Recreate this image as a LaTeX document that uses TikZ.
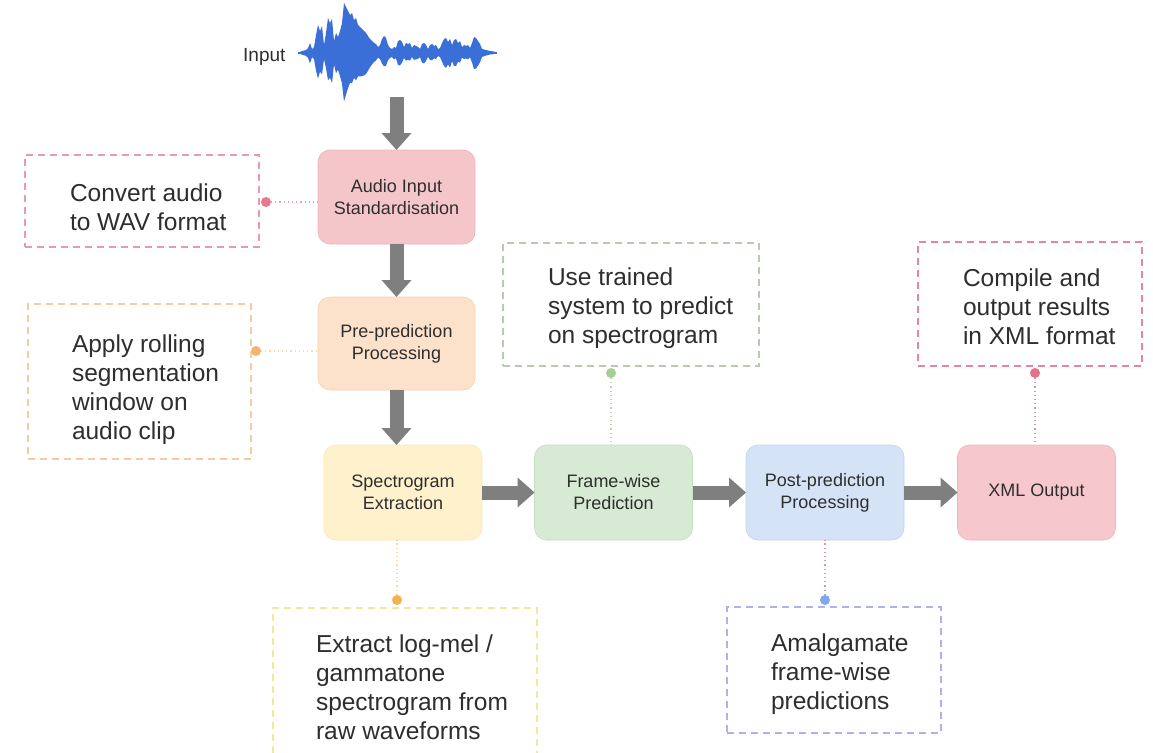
\documentclass[tikz,border=0pt]{standalone}
\usepackage{fontspec}
\setmainfont{Liberation Sans}
\usetikzlibrary{arrows.meta}
\definecolor{txt}{HTML}{2E2E2E}
\definecolor{wavec}{HTML}{3A6FD8}
\definecolor{arrowgrey}{HTML}{7F7F7F}
\definecolor{f1}{HTML}{F4C6CA}
\definecolor{f2}{HTML}{FCE2CB}
\definecolor{f3}{HTML}{FEF1CC}
\definecolor{f4}{HTML}{D7EAD3}
\definecolor{f5}{HTML}{D4E4F6}
\definecolor{f6}{HTML}{F6C8CE}
\definecolor{b1}{HTML}{EEB3BA}
\definecolor{b2}{HTML}{F6D2B2}
\definecolor{b3}{HTML}{FBE7B4}
\definecolor{b4}{HTML}{C5DFBF}
\definecolor{b5}{HTML}{BFD5EE}
\definecolor{b6}{HTML}{F0B3BD}
\definecolor{k1}{HTML}{E99AAD}
\definecolor{k2}{HTML}{F6CBA0}
\definecolor{k3}{HTML}{B9C9B5}
\definecolor{k4}{HTML}{E585A0}
\definecolor{k5}{HTML}{F0EA9A}
\definecolor{k6}{HTML}{AFB2EA}
\definecolor{d1c}{HTML}{E8798C}
\definecolor{d2c}{HTML}{F4B373}
\definecolor{d3c}{HTML}{A5CF94}
\definecolor{d4c}{HTML}{E3708D}
\definecolor{d5c}{HTML}{F6B24A}
\definecolor{d6c}{HTML}{7FA9EC}
\newcommand\annfont{\fontsize{24.5}{29}\selectfont}
\newcommand\boxfont{\fontsize{18}{22}\selectfont}
\tikzset{
  proc/.style={rounded corners=12pt, minimum width=158pt, minimum height=95pt, inner sep=0pt, outer sep=0pt, align=center, font=\boxfont, text=txt, line width=0.6pt},
  annot/.style={draw, dash pattern=on 7pt off 5pt, line width=1.3pt, inner sep=0pt, outer sep=0pt},
  anntext/.style={anchor=base west, align=left, font=\annfont, text=txt, inner sep=0pt, outer sep=0pt},
  dotc/.style={circle, minimum size=10pt, inner sep=0pt, outer sep=0pt},
  link/.style={line width=1.2pt, dash pattern=on 1.2pt off 3pt},
  flow/.style={draw=arrowgrey, line width=14pt, -{Triangle[length=17pt,width=30pt,line width=0pt]}}
}
\begin{document}
\begin{tikzpicture}[x=1pt,y=-1pt]
\useasboundingbox (0,0) rectangle (1153,752);
\clip (0,0) rectangle (1153,752);
\fill[white] (0,0) rectangle (1153,752);

% waveform
\def\wavelist{302/2,306/3,308/5,310/10,312/4,314/6,316/18,318/28,320/22,322/27,324/8,326/20,328/35,330/30,332/34,334/12,336/20,338/16,340/22,342/30,344/50,346/46,348/42,350/38,352/40,354/33,356/35,358/28,360/26,362/24,364/22,366/20,368/17,370/14,372/12,374/10,376/9,378/6,380/8,382/14,384/17,386/15,388/8,390/5,392/4,394/6,396/5,398/12,400/13,402/11,404/6,406/10,408/9,410/10,412/5,414/8,416/7,418/6,420/4,422/9,424/10,426/8,428/4,430/8,432/9,434/7,436/8,438/4,440/5,442/10,444/14,446/15,448/11,450/14,452/8,454/13,456/14,458/10,460/12,462/6,464/8,466/7,468/8,470/5,472/10,474/16,476/15,478/12,480/9,482/4,486/3,490/2,494/1.5}
\fill[wavec] (298,53) \foreach \x/\a in \wavelist { -- (\x,{53-\a}) } -- (497,53) -- cycle;
\fill[wavec] (298,53) \foreach \x/\a in \wavelist { -- (\x,{53+\a*(0.9+0.15*sin(\x*13))}) } -- (497,53) -- cycle;
\draw[wavec, line width=1.5pt] (298,53) -- (497,53);
\node[anchor=base west, font=\fontsize{19}{22}\selectfont, text=txt, inner sep=0pt] (inlbl) at (243,62) {Input};
\coordinate (wavebot) at (396.5,97);

% main boxes
\node[proc, fill=f1, draw=b1, minimum width=157pt, minimum height=94pt] (std) at (396.5,197) {Audio Input\\Standardisation};
\node[proc, fill=f2, draw=b2, minimum width=157pt, minimum height=93pt] (pre) at (396.5,343.5) {Pre-prediction\\Processing};
\node[proc, fill=f3, draw=b3] (spec) at (403,492.5) {Spectrogram\\Extraction};
\node[proc, fill=f4, draw=b4] (frame) at (613.5,492.5) {Frame-wise\\Prediction};
\node[proc, fill=f5, draw=b5] (post) at (825,492.5) {Post-prediction\\Processing};
\node[proc, fill=f6, draw=b6] (xml) at (1036.5,492.5) {XML Output};

% flow arrows
\draw[flow] (wavebot) -- (std.north);
\draw[flow] (std.south) -- (pre.north);
\draw[flow] (pre.south) -- (pre.south |- spec.north);
\draw[flow] (spec.east) -- (frame.west);
\draw[flow] (frame.east) -- (post.west);
\draw[flow] (post.east) -- (xml.west);

% annotation boxes (text nodes anchored at baseline of last line)
\node[annot, draw=k1, minimum width=234pt, minimum height=92pt] (convbox) at (142,201) {};
\node[anntext] (convtxt) at (70,230) {Convert audio\\to WAV format};
\node[annot, draw=k2, minimum width=223pt, minimum height=155pt] (applybox) at (139.5,381.5) {};
\node[anntext] (applytxt) at (72,439) {Apply rolling\\segmentation\\window on\\audio clip};
\node[annot, draw=k3, minimum width=256pt, minimum height=123pt] (usebox) at (631,304.5) {};
\node[anntext] (usetxt) at (548,343) {Use trained\\system to predict\\on spectrogram};
\node[annot, draw=k4, minimum width=224pt, minimum height=124pt] (compbox) at (1030,304) {};
\node[anntext] (comptxt) at (963,344) {Compile and\\output results\\in XML format};
\node[annot, draw=k5, minimum width=264pt, minimum height=162pt] (extbox) at (405,689) {};
\node[anntext] (exttxt) at (316,739) {Extract log-mel /\\gammatone\\spectrogram from\\raw waveforms};
\node[annot, draw=k6, minimum width=214pt, minimum height=126pt] (amalbox) at (834,670) {};
\node[anntext] (amaltxt) at (771,709) {Amalgamate\\frame-wise\\predictions};

% dots and dotted links
\node[dotc, fill=d1c] (d1) at (266,202) {};
\node[dotc, fill=d2c] (d2) at (256,351) {};
\node[dotc, fill=d3c] (d3) at (611,373) {};
\node[dotc, fill=d4c] (d4) at (1035,373) {};
\node[dotc, fill=d5c] (d5) at (397,600) {};
\node[dotc, fill=d6c] (d6) at (825,600) {};
\draw[link, draw=d1c!70] (d1) -- (d1 -| std.west);
\draw[link, draw=d2c!50] (d2) -- (d2 -| pre.west);
\draw[link, draw=d3c!60!gray!60] (d3) -- (d3 |- frame.north);
\draw[link, draw=d4c!40!gray!70] (d4) -- (d4 |- xml.north);
\draw[link, draw=d5c!50] (d5) -- (d5 |- spec.south);
\draw[link, draw=d6c!50!red!60] (d6) -- (d6 |- post.south);
\end{tikzpicture}
\end{document}
